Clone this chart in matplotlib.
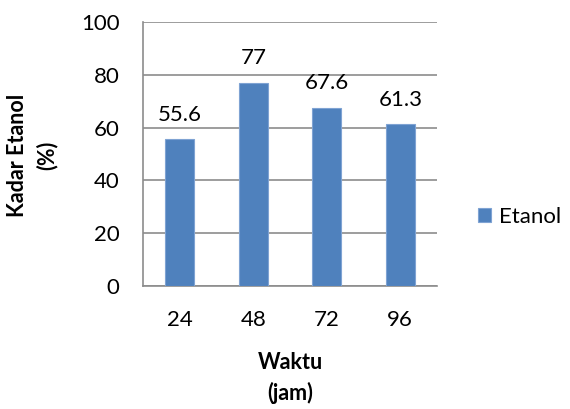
import matplotlib
matplotlib.use("Agg")
import matplotlib.pyplot as plt

categories = ["24", "48", "72", "96"]
values = [55.6, 77, 67.6, 61.3]
labels = ["55.6", "77", "67.6", "61.3"]
yticks = [0, 20, 40, 60, 80, 100]

plt.rcParams['font.family'] = ['Lato', 'DejaVu Sans']

fig = plt.figure(figsize=(5.70, 4.09), dpi=100)
ax = fig.add_axes([143/570, 1-286/409, (437-143)/570, (286-22)/409])

x = list(range(len(categories)))
bars = ax.bar(x, values, width=0.4, color="#4F81BD", edgecolor="#7FA3D3", linewidth=0.8, zorder=3, label="Etanol")
for xi, v, lab in zip(x, values, labels):
    ax.text(xi, v + 5.5, lab, ha="center", va="bottom", fontsize=16, color="black")

ax.set_xlim(-0.5, len(categories) - 0.5)
ax.set_ylim(0, 100)
ax.set_yticks(yticks)
ax.set_yticklabels([str(t) for t in yticks], fontsize=16)
ax.set_xticks(x)
ax.set_xticklabels(categories, fontsize=16)
ax.tick_params(axis="both", length=0)
ax.tick_params(axis="y", pad=17)
ax.tick_params(axis="x", pad=17)
ax.grid(axis="y", color="#8C8C8C", linewidth=1.2, zorder=0)
for s in ["top", "right"]:
    ax.spines[s].set_visible(False)
for s in ["left", "bottom"]:
    ax.spines[s].set_color("#8C8C8C")
    ax.spines[s].set_linewidth(1.2)

fig.text(32/570, 1-155/409, "Kadar Etanol\n(%)", rotation=90, ha="center", va="center",
         fontsize=15.5, fontweight="bold", linespacing=1.45)
fig.text(290/570, 1-378/409, "Waktu\n(jam)", ha="center", va="center",
         fontsize=15.5, fontweight="bold", linespacing=1.45)

fig.legend(handles=[bars], labels=["Etanol"], loc="center left", bbox_to_anchor=(478/570, 1-217/409),
           frameon=False, fontsize=16, handlelength=0.6, handleheight=0.6, handletextpad=0.35,
           borderpad=0, borderaxespad=0)

fig.savefig("out.png", dpi=100)
